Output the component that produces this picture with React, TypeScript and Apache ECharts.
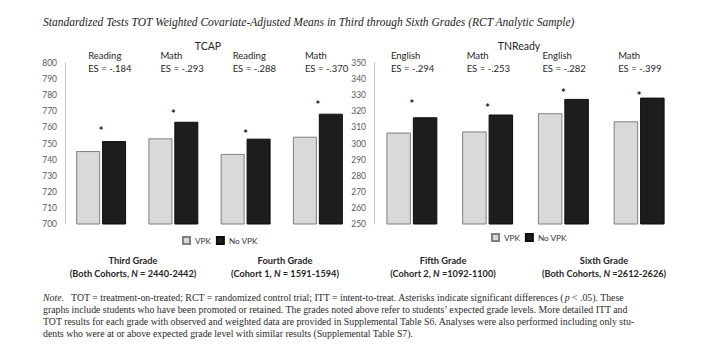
import React, { useEffect, useRef } from 'react';
import * as echarts from 'echarts';

// ---- data ----
const tcapCats = ['G3 Reading', 'G3 Math', 'G4 Reading', 'G4 Math'];
const tcapSubjects = ['Reading', 'Math', 'Reading', 'Math'];
const tcapES = ['-.184', '-.293', '-.288', '-.370'];
const tcapVPK = [745.3, 753.2, 743.5, 754.2];
const tcapNoVPK = [751.5, 763.5, 753.0, 768.5];
const tcapStar = [759.5, 770.0, 758.0, 776.0];
const tcapTicks = { min: 700, max: 800, interval: 10 };

const tnCats = ['G5 English', 'G5 Math', 'G6 English', 'G6 Math'];
const tnSubjects = ['English', 'Math', 'English', 'Math'];
const tnES = ['-.294', '-.253', '-.282', '-.399'];
const tnVPK = [306.8, 307.5, 318.8, 313.8];
const tnNoVPK = [316.3, 318.0, 327.7, 328.5];
const tnStar = [326.4, 323.7, 333.0, 331.5];
const tnTicks = { min: 250, max: 350, interval: 10 };

const gradeNames = ['Third Grade', 'Fourth Grade', 'Fifth Grade', 'Sixth Grade'];
const gradeCohorts = ['Both Cohorts', 'Cohort 1', 'Cohort 2', 'Both Cohorts'];
const gradeN = [' = 2440-2442', ' = 1591-1594', ' =1092-1100', ' =2612-2626'];
const gradeX = [133, 285, 443, 604];

const titleText =
  'Standardized Tests TOT Weighted Covariate-Adjusted Means in Third through Sixth Grades (RCT Analytic Sample)';

const SANS = 'Lato, "Noto Sans", sans-serif';
const SERIF = '"Liberation Serif", "DejaVu Serif", serif';

function buildOption() {
  const vpkStyle = { color: '#d9d9d9', borderColor: '#7f7f7f', borderWidth: 1 };
  const noStyle = { color: '#1d1d1d', borderColor: '#0d0d0d', borderWidth: 1 };

  const grids = [
    { left: 65, top: 63, width: 289, height: 161 },
    { left: 374, top: 63, width: 303, height: 161 },
  ];

  const yAxis = [tcapTicks, tnTicks].map((t, i) => ({
    type: 'value',
    gridIndex: i,
    min: t.min,
    max: t.max,
    interval: t.interval,
    axisLine: { show: true, lineStyle: { color: '#bfbfbf', width: 1 } },
    axisTick: { show: false },
    splitLine: { show: false },
    axisLabel: { color: '#595959', fontSize: 8.5, fontFamily: SANS, margin: 8 },
  }));

  const xAxis = [tcapCats, tnCats].map((c, i) => ({
    type: 'category',
    gridIndex: i,
    data: c,
    axisLine: { show: false },
    axisTick: { show: false },
    axisLabel: { show: false },
  }));

  const headerSeries = (subjects: string[], es: string[], top: number, gi: number, dx: number) => ({
    type: 'scatter',
    xAxisIndex: gi,
    yAxisIndex: gi,
    silent: true,
    symbolSize: 0,
    itemStyle: { opacity: 1 },
    data: subjects.map((s, i) => ({
      value: [i, top],
      label: { formatter: `${s}\nES = ${es[i]}` },
    })),
    label: {
      show: true,
      position: 'inside',
      align: 'left',
      verticalAlign: 'middle',
      offset: [dx, -1],
      fontFamily: SANS,
      fontSize: 9.5,
      lineHeight: 12.6,
      color: '#1f1f1f',
      opacity: 1,
    },
  });

  const starSeries = (vals: number[], gi: number) => ({
    type: 'scatter',
    xAxisIndex: gi,
    yAxisIndex: gi,
    silent: true,
    symbolSize: 0,
    itemStyle: { opacity: 1 },
    data: vals.map((v, i) => [i, v]),
    label: {
      show: true,
      position: 'inside',
      formatter: '*',
      fontFamily: SANS,
      fontSize: 11,
      fontWeight: 'bold',
      offset: [0, 2.5],
      color: '#111111',
      opacity: 1,
    },
  });

  const barSeries = (name: string, vals: number[], gi: number, style: any, bw: number) => ({
    type: 'bar',
    name,
    xAxisIndex: gi,
    yAxisIndex: gi,
    data: vals,
    barWidth: bw,
    barGap: '8%',
    itemStyle: style,
  });

  const series = [
    barSeries('VPK', tcapVPK, 0, vpkStyle, 24),
    barSeries('No VPK', tcapNoVPK, 0, noStyle, 24),
    barSeries('VPK', tnVPK, 1, vpkStyle, 24.5),
    barSeries('No VPK', tnNoVPK, 1, noStyle, 24.5),
    starSeries(tcapStar, 0),
    starSeries(tnStar, 1),
    headerSeries(tcapSubjects, tcapES, tcapTicks.max, 0, -13),
    headerSeries(tnSubjects, tnES, tnTicks.max, 1, -21),
  ];

  const legendBase = {
    data: ['VPK', 'No VPK'],
    itemWidth: 7,
    itemHeight: 7,
    itemGap: 5,
    icon: 'rect',
    selectedMode: false,
    textStyle: { fontSize: 8.2, color: '#333333', fontFamily: SANS },
  };

  const gradeTexts: any[] = [];
  gradeNames.forEach((g, i) => {
    gradeTexts.push({
      type: 'text',
      x: gradeX[i],
      y: 260.7,
      style: {
        text: g,
        align: 'center',
        verticalAlign: 'middle',
        fontFamily: SANS,
        fontWeight: 'bold',
        fontSize: 9.3,
        fill: '#262626',
      },
    });
    gradeTexts.push({
      type: 'text',
      x: gradeX[i],
      y: 273.3,
      style: {
        text: `{b|(${gradeCohorts[i]}, }{bi|N}{b|${gradeN[i]})}`,
        align: 'center',
        verticalAlign: 'middle',
        rich: {
          b: { fontFamily: SANS, fontWeight: 'bold', fontSize: 9.2, fill: '#262626' },
          bi: { fontFamily: SANS, fontWeight: 'bold', fontStyle: 'italic', fontSize: 9.2, fill: '#262626' },
        },
      },
    });
  });

  const noteRich = {
    r: { fontFamily: SERIF, fontSize: 9.8, fill: '#2a2a2a' },
    i: { fontFamily: SERIF, fontSize: 9.8, fontStyle: 'italic', fill: '#2a2a2a' },
  };
  const noteLines = [
    '{i|Note.}{r|   TOT = treatment-on-treated; RCT = randomized control trial; ITT = intent-to-treat. Asterisks indicate significant differences (}{i|p}{r| < .05). These}',
    '{r|graphs include students who have been promoted or retained. The grades noted above refer to students’ expected grade levels. More detailed ITT and}',
    '{r|TOT results for each grade with observed and weighted data are provided in Supplemental Table S6. Analyses were also performed including only stu-}',
    '{r|dents who were at or above expected grade level with similar results (Supplemental Table S7).}',
  ];
  const noteY = [297, 309, 321, 333];

  const graphic: any[] = [
    {
      type: 'text',
      x: 43,
      y: 22,
      style: {
        text: titleText,
        verticalAlign: 'middle',
        fontFamily: SERIF,
        fontStyle: 'italic',
        fontSize: 11.5,
        fill: '#222222',
      },
    },
    {
      type: 'text',
      x: 208,
      y: 45.7,
      style: { text: 'TCAP', align: 'center', verticalAlign: 'middle', fontFamily: SANS, fontSize: 10.5, fill: '#262626' },
    },
    {
      type: 'text',
      x: 519,
      y: 45.7,
      style: { text: 'TNReady', align: 'center', verticalAlign: 'middle', fontFamily: SANS, fontSize: 10.5, fill: '#262626' },
    },
    ...gradeTexts,
    ...noteLines.map((t, i) => ({
      type: 'text',
      x: 43,
      y: noteY[i],
      style: { text: t, verticalAlign: 'middle', rich: noteRich },
    })),
  ];

  return {
    animation: false,
    backgroundColor: '#ffffff',
    grid: grids,
    xAxis,
    yAxis,
    series,
    legend: [
      { ...legendBase, left: 177, top: 231 },
      { ...legendBase, left: 486, top: 228 },
    ],
    graphic,
  };
}

export default function App() {
  const ref = useRef<HTMLDivElement>(null);
  useEffect(() => {
    document.body.style.margin = '0';
    const chart = echarts.init(ref.current!, null, { renderer: 'svg' });
    chart.setOption(buildOption() as any);
    return () => chart.dispose();
  }, []);
  return <div ref={ref} style={{ width: 710, height: 354 }} />;
}
